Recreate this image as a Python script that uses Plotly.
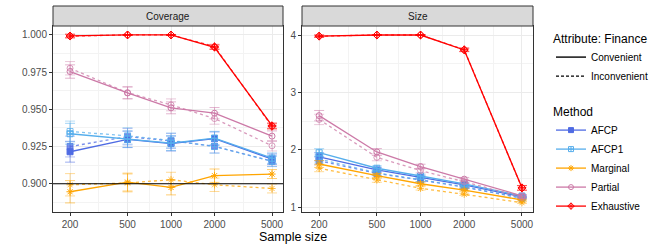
import math
import plotly.graph_objects as go

sample_sizes = [200, 500, 1000, 2000, 5000]
x_ticks = [200, 500, 1000, 2000, 5000]
methods = ["AFCP", "AFCP1", "Marginal", "Partial", "Exhaustive"]
attributes = ["Convenient", "Inconvenient"]

# Coverage values
cov_afcp_conv = [0.9215, 0.9298, 0.9270, 0.9303, 0.9165]
cov_afcp_inconv = [0.9250, 0.9316, 0.9288, 0.9252, 0.9152]
cov_afcp1_conv = [0.9336, 0.9300, 0.9273, 0.9307, 0.9172]
cov_afcp1_inconv = [0.9351, 0.9322, 0.9291, 0.9250, 0.9150]
cov_marg_conv = [0.8946, 0.9011, 0.8975, 0.9054, 0.9065]
cov_marg_inconv = [0.8993, 0.9005, 0.9027, 0.8993, 0.8968]
cov_part_conv = [0.9754, 0.9610, 0.9510, 0.9474, 0.9320]
cov_part_inconv = [0.9776, 0.9612, 0.9530, 0.9438, 0.9255]
cov_exh_conv = [0.9993, 1.0000, 1.0000, 0.9917, 0.9390]
cov_exh_inconv = [0.9992, 1.0000, 1.0000, 0.9922, 0.9385]

# Coverage error bar half-widths
cov_err_afcp = [0.0070, 0.0055, 0.0050, 0.0045, 0.0035]
cov_err_afcp1 = [0.0070, 0.0055, 0.0050, 0.0045, 0.0035]
cov_err_marg = [0.0075, 0.0060, 0.0050, 0.0045, 0.0030]
cov_err_part = [0.0045, 0.0040, 0.0040, 0.0038, 0.0035]
cov_err_exh = [0.0012, 0.0003, 0.0003, 0.0015, 0.0018]

# Size values
size_afcp_conv = [1.88, 1.65, 1.52, 1.39, 1.18]
size_afcp_inconv = [1.81, 1.59, 1.475, 1.35, 1.16]
size_afcp1_conv = [1.95, 1.68, 1.545, 1.406, 1.197]
size_afcp1_inconv = [1.84, 1.60, 1.48, 1.36, 1.16]
size_marg_conv = [1.754, 1.55, 1.41, 1.30, 1.127]
size_marg_inconv = [1.68, 1.475, 1.33, 1.226, 1.08]
size_part_conv = [2.596, 1.963, 1.71, 1.49, 1.20]
size_part_inconv = [2.53, 1.87, 1.64, 1.446, 1.174]
size_exh_conv = [3.98, 4.00, 4.00, 3.74, 1.34]
size_exh_inconv = [3.98, 4.00, 4.00, 3.745, 1.335]

size_err_afcp = [0.07, 0.04, 0.03, 0.02, 0.015]
size_err_afcp1 = [0.07, 0.04, 0.03, 0.02, 0.015]
size_err_marg = [0.06, 0.04, 0.03, 0.02, 0.015]
size_err_part = [0.09, 0.06, 0.04, 0.03, 0.02]
size_err_exh = [0.02, 0.005, 0.005, 0.03, 0.04]

colors = {"AFCP": "#4F6BE3", "AFCP1": "#56AEEC", "Marginal": "#FFA500",
          "Partial": "#CC79A7", "Exhaustive": "#FF0000"}
rgba = {"AFCP": "79,107,227", "AFCP1": "86,174,236", "Marginal": "255,165,0",
        "Partial": "204,121,167", "Exhaustive": "255,0,0"}
symbols = {"AFCP": "square", "AFCP1": "square-cross-open", "Marginal": "asterisk-open",
           "Partial": "circle-open", "Exhaustive": "diamond-cross-open"}

coverage = {
    "AFCP": (cov_afcp_conv, cov_afcp_inconv, cov_err_afcp),
    "AFCP1": (cov_afcp1_conv, cov_afcp1_inconv, cov_err_afcp1),
    "Marginal": (cov_marg_conv, cov_marg_inconv, cov_err_marg),
    "Partial": (cov_part_conv, cov_part_inconv, cov_err_part),
    "Exhaustive": (cov_exh_conv, cov_exh_inconv, cov_err_exh),
}
size = {
    "AFCP": (size_afcp_conv, size_afcp_inconv, size_err_afcp),
    "AFCP1": (size_afcp1_conv, size_afcp1_inconv, size_err_afcp1),
    "Marginal": (size_marg_conv, size_marg_inconv, size_err_marg),
    "Partial": (size_part_conv, size_part_inconv, size_err_part),
    "Exhaustive": (size_exh_conv, size_exh_inconv, size_err_exh),
}

FONT = "Liberation Sans, Arial, sans-serif"
W, H = 664, 249
ML, MR, MT, MB = 53, 131, 26, 37
PW = W - ML - MR
PH = H - MT - MB
DASH = "3px,3px"

fig = go.Figure()

def add_panel(data, xa, ya):
    for m in methods:
        conv, inconv, err = data[m]
        for vals, dash, alpha in ((inconv, DASH, 0.75), (conv, "solid", 1.0)):
            fig.add_trace(go.Scatter(
                x=sample_sizes, y=vals, xaxis=xa, yaxis=ya,
                mode="lines+markers", showlegend=False,
                line=dict(color=f"rgba({rgba[m]},{alpha})", width=1.3, dash=dash),
                marker=dict(symbol=symbols[m], size=6,
                            color=f"rgba({rgba[m]},{alpha})",
                            line=dict(color=f"rgba({rgba[m]},{alpha})", width=1)),
                error_y=dict(type="data", array=err, visible=True, width=5,
                             thickness=1, color=f"rgba({rgba[m]},{0.55 * alpha})"),
            ))

add_panel(coverage, "x", "y")
add_panel(size, "x2", "y2")

# Legend: attribute
for a, dash in zip(attributes, ["solid", "3px,2px"]):
    fig.add_trace(go.Scatter(x=[None], y=[None], mode="lines", name=a,
                             line=dict(color="black", width=1.4, dash=dash),
                             legend="legend", showlegend=True))
# Legend: method
for m in methods:
    fig.add_trace(go.Scatter(x=[None], y=[None], mode="lines+markers", name=m,
                             line=dict(color=colors[m], width=1.3),
                             marker=dict(symbol=symbols[m], size=5, color=colors[m],
                                         line=dict(color=colors[m], width=1)),
                             legend="legend2", showlegend=True))

lx0, lx1 = 2.183, 3.775
minor_x = [math.sqrt(x_ticks[i] * x_ticks[i + 1]) for i in range(len(x_ticks) - 1)]

axis_common = dict(
    showline=True, linecolor="#333333", linewidth=1, mirror=True,
    ticks="outside", ticklen=3, tickcolor="#333333", tickwidth=1,
    tickfont=dict(family=FONT, size=10, color="#4D4D4D"),
    showgrid=True, gridcolor="#EBEBEB", gridwidth=1, zeroline=False,
)
minor_x_cfg = dict(tickmode="array", tickvals=minor_x, showgrid=True,
                   gridcolor="#F3F3F3", gridwidth=0.6, ticks="")

fig.update_layout(
    width=W, height=H,
    margin=dict(l=ML, r=MR, t=MT, b=MB, autoexpand=False),
    paper_bgcolor="white", plot_bgcolor="white",
    font=dict(family=FONT, size=10, color="black"),
    xaxis=dict(type="log", domain=[0, 230 / PW], range=[lx0, lx1],
               tickvals=x_ticks, ticktext=[str(v) for v in x_ticks],
               minor=minor_x_cfg, anchor="y", **axis_common),
    yaxis=dict(range=[0.881, 1.006], tickvals=[0.9, 0.925, 0.95, 0.975, 1.0],
               ticktext=["0.900", "0.925", "0.950", "0.975", "1.000"],
               minor=dict(tickmode="array", tickvals=[0.8875, 0.9125, 0.9375, 0.9625, 0.9875],
                          showgrid=True, gridcolor="#F3F3F3", gridwidth=0.6, ticks=""),
               anchor="x", **axis_common),
    xaxis2=dict(type="log", domain=[249 / PW, 1], range=[lx0, lx1],
                tickvals=x_ticks, ticktext=[str(v) for v in x_ticks],
                minor=minor_x_cfg, anchor="y2", **axis_common),
    yaxis2=dict(range=[0.918, 4.157], tickvals=[1, 2, 3, 4],
                minor=dict(tickmode="array", tickvals=[1.5, 2.5, 3.5],
                           showgrid=True, gridcolor="#F3F3F3", gridwidth=0.6, ticks=""),
                anchor="x2", **axis_common),
    legend=dict(x=(551 - ML) / PW, y=(PH - 1) / PH, xanchor="left", yanchor="top",
                title=dict(text="Attribute: Finance", font=dict(family=FONT, size=12)),
                font=dict(family=FONT, size=10), bgcolor="rgba(0,0,0,0)",
                tracegroupgap=0, itemwidth=30),
    legend2=dict(x=(551 - ML) / PW, y=(PH - 74) / PH, xanchor="left", yanchor="top",
                 title=dict(text="Method", font=dict(family=FONT, size=12)),
                 font=dict(family=FONT, size=10), bgcolor="rgba(0,0,0,0)",
                 tracegroupgap=0, itemwidth=30),
    showlegend=True,
)

# Reference line at 0.9 in coverage panel
fig.add_shape(type="line", xref="x domain", yref="y", x0=0, x1=1, y0=0.9, y1=0.9,
              line=dict(color="black", width=1.1), layer="above")

# Strips
strip_h = 20 / PH
for dom, label in (([0, 230 / PW], "Coverage"), ([249 / PW, 1], "Size")):
    fig.add_shape(type="rect", xref="paper", yref="paper", x0=dom[0], x1=dom[1],
                  y0=1, y1=1 + strip_h, fillcolor="#D9D9D9",
                  line=dict(color="#333333", width=1))
    fig.add_annotation(text=label, xref="paper", yref="paper", x=(dom[0] + dom[1]) / 2,
                       y=1 + strip_h / 2, showarrow=False, xanchor="center", yanchor="middle",
                       font=dict(family=FONT, size=10, color="#1A1A1A"))

fig.add_annotation(text="Sample size", xref="paper", yref="paper", x=0.5, y=-(237 - 212) / PH,
                   showarrow=False, xanchor="center", yanchor="middle",
                   font=dict(family=FONT, size=12.5, color="black"))

fig.write_html("out.html", config={"displayModeBar": False},
               post_script="document.body.style.margin='0';document.body.style.overflow='hidden';")
